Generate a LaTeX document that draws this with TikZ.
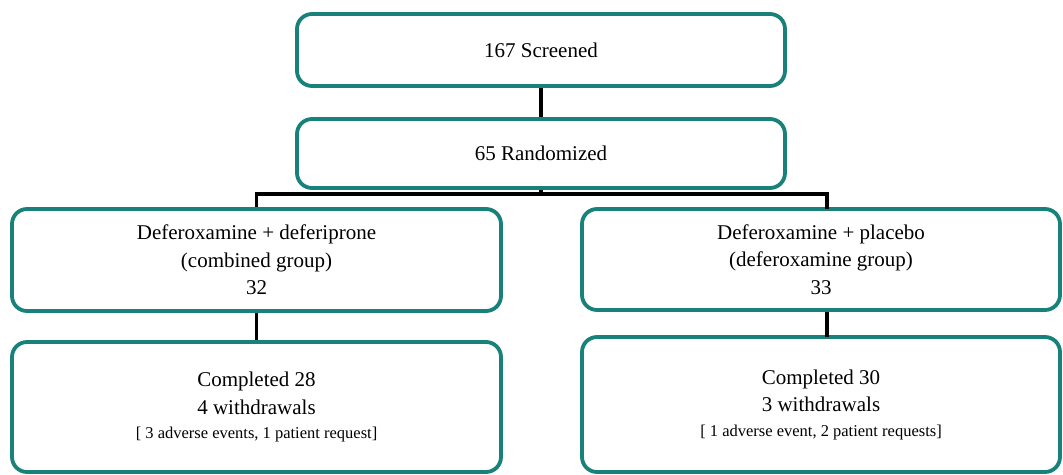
\documentclass[tikz,border=0pt]{standalone}
\usepackage{fontspec}
\setmainfont{Liberation Serif}
\definecolor{boxteal}{RGB}{24,130,122}
\tikzset{
  flowbox/.style={draw=boxteal, line width=3.8pt, rounded corners=15pt, fill=white, inner sep=0pt, align=center, font=\fontsize{21}{27.5}\selectfont},
  conn/.style={draw=black, line width=3.8pt}
}
\newcommand{\smalltext}[1]{{\fontsize{16.5}{22}\selectfont #1}}
\begin{document}
\begin{tikzpicture}[x=1pt,y=-1pt]
\useasboundingbox (0,0) rectangle (1063,474);
% boxes
\node[flowbox, minimum width=488pt, minimum height=72pt] (b1) at (541,50) {167 Screened};
\node[flowbox, minimum width=488pt, minimum height=69pt] (b2) at (541,153.5) {65 Randomized};
\node[flowbox, minimum width=489pt, minimum height=102pt] (b3) at (256.5,260) {Deferoxamine + deferiprone\\(combined group)\\32};
\node[flowbox, minimum width=478pt, minimum height=101pt] (b4) at (821,259.5) {Deferoxamine + placebo\\(deferoxamine group)\\33};
\node[flowbox, minimum width=489pt, minimum height=130pt] (b5) at (256.5,407) {Completed 28\\4 withdrawals\\[-3pt]\smalltext{[ 3 adverse events, 1 patient request]}};
\node[flowbox, minimum width=478pt, minimum height=135pt] (b6) at (821,404.5) {Completed 30\\3 withdrawals\\[-3pt]\smalltext{[ 1 adverse event, 2 patient requests]}};
% junction coordinates
\coordinate (j) at (541,194);
\coordinate (jl) at (256.5,194);
\coordinate (jr) at (827,194);
\coordinate (r4) at (827,209);
\coordinate (r6) at (827,337);
% connectors
\draw[conn] (b1.south) -- (b2.north);
\draw[conn] (b2.south) -- (j);
\draw[conn, line cap=rect] (jl) -- (jr);
\draw[conn] (jl) -- (b3.north);
\draw[conn] (jr) -- (r4);
\draw[conn] (b3.south) -- (b5.north);
\draw[conn] (r4 |- b4.south) -- (r6);
\end{tikzpicture}
\end{document}
